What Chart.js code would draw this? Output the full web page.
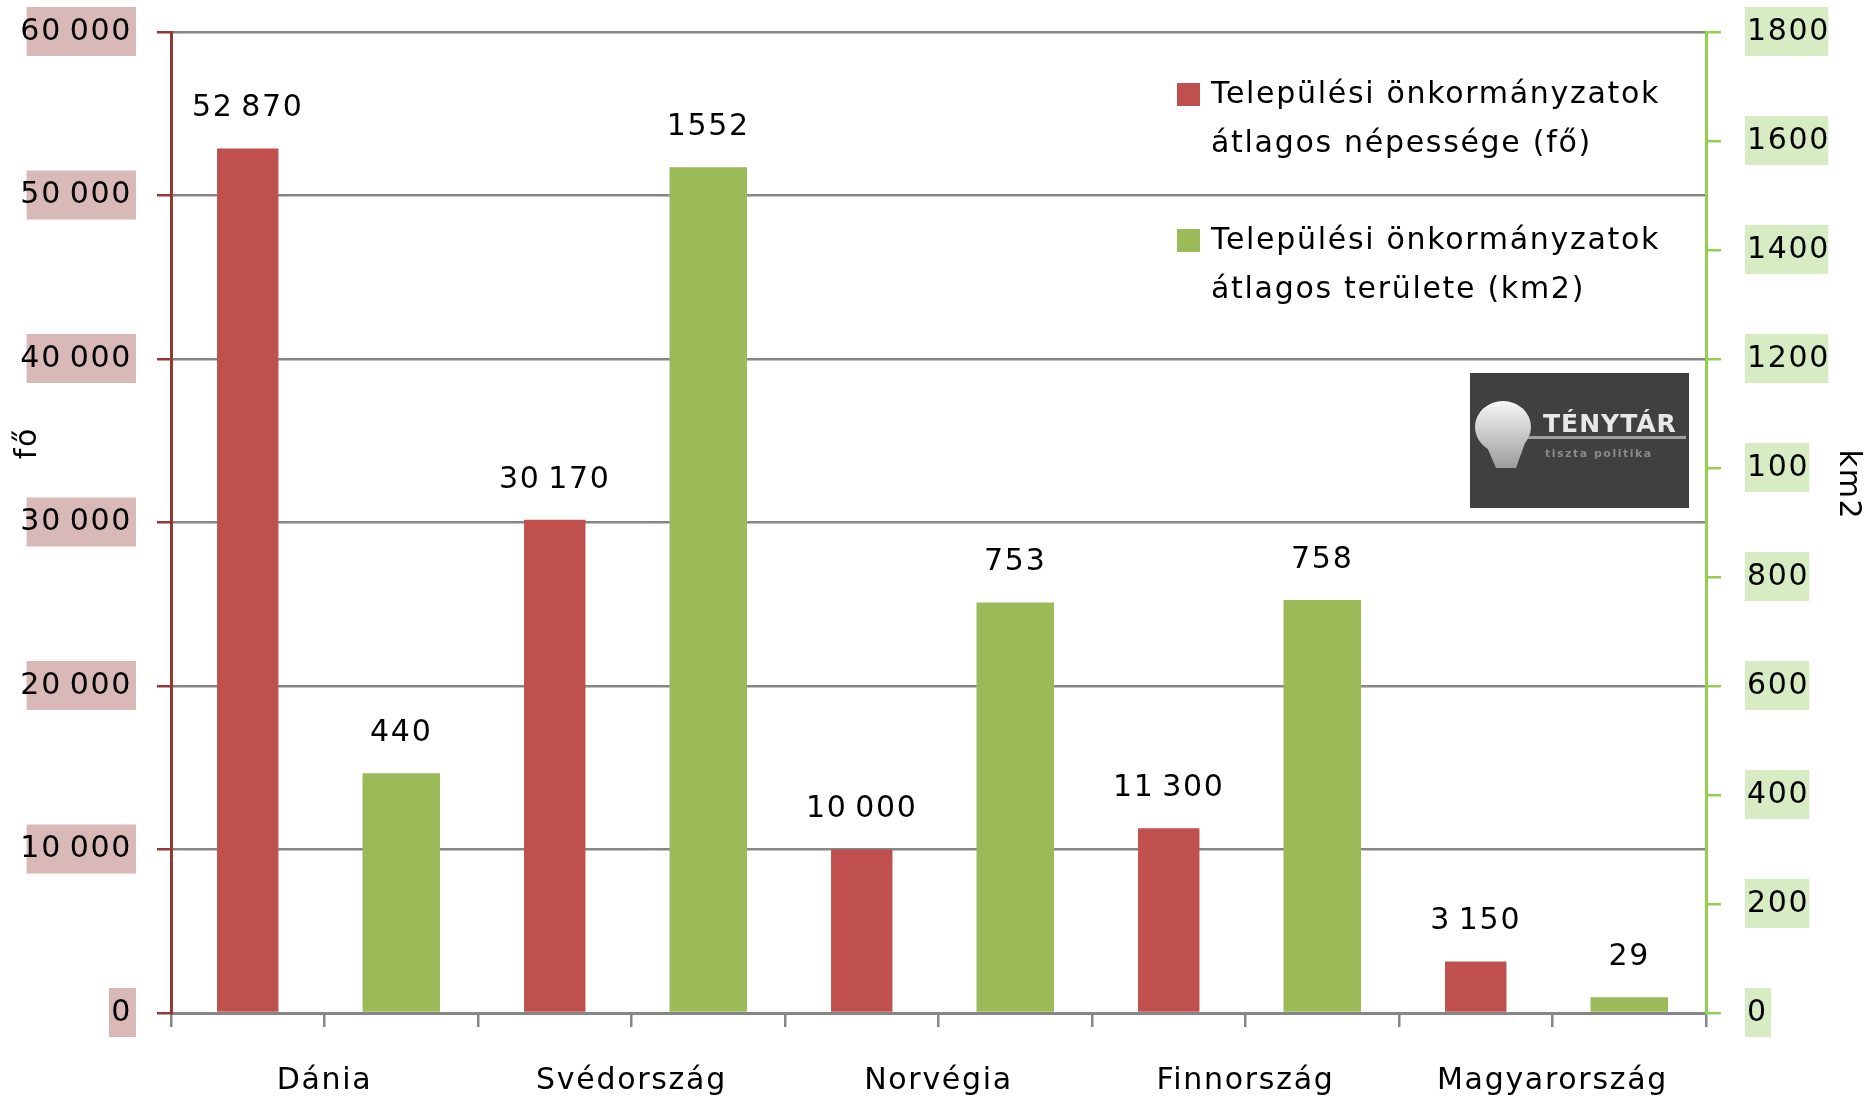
<!DOCTYPE html>
<html lang="hu">
<head>
<meta charset="utf-8">
<title>Települési önkormányzatok</title>
<script src="https://cdn.jsdelivr.net/npm/chart.js@4.4.1/dist/chart.umd.min.js"></script>
<style>
  html, body { margin: 0; padding: 0; background: #fff; }
  #wrap { width: 1869px; height: 1099px; }
</style>
</head>
<body>
<div id="wrap"><canvas id="chart" width="1869" height="1099"></canvas></div>
<script>
const countries = ['Dánia', 'Svédország', 'Norvégia', 'Finnország', 'Magyarország'];
const population = [52870, 30170, 10000, 11300, 3150];
const area = [440, 1552, 753, 758, 29];
const popLabel = ['Települési önkormányzatok', 'átlagos népessége (fő)'];
const areaLabel = ['Települési önkormányzatok', 'átlagos területe (km2)'];
const leftTicks = ['0', '10 000', '20 000', '30 000', '40 000', '50 000', '60 000'];
const rightTicks = ['0', '200', '400', '600', '800', '100', '1200', '1400', '1600', '1800'];

const RED = '#c0504d';
const GREEN = '#9bbb59';
const FONT = '"DejaVu Sans", Verdana, sans-serif';
const SPACING = '1.7px';
const THIN = '\u2009';

// every country gets two slots: népesség, then terület
const slots = countries.flatMap(c => [c, c]);
const popData = population.flatMap(v => [v, null]);
const areaData = area.flatMap(v => [null, v]);

// thousands separator is a narrow space in the original
const spaced = v => String(v).replace(/\B(?=(\d{3})+(?!\d))/g, THIN);

Chart.defaults.font.family = FONT;
Chart.defaults.font.size = 30;
Chart.defaults.color = '#000';

// the excel text is a bit wider than DejaVu, so open it up a little
const letterSpacing = {
  id: 'letterSpacing',
  beforeDraw(chart) {
    chart.ctx.letterSpacing = SPACING;
  }
};

// value labels above the bars
const barLabels = {
  id: 'barLabels',
  afterDatasetsDraw(chart) {
    const ctx = chart.ctx;
    ctx.save();
    ctx.font = '30px ' + FONT;
    ctx.fillStyle = '#000';
    ctx.textAlign = 'center';
    ctx.textBaseline = 'middle';
    chart.data.datasets.forEach((ds, di) => {
      chart.getDatasetMeta(di).data.forEach((bar, i) => {
        const v = ds.data[i];
        if (v === null) return;
        const txt = di === 0 ? spaced(v) : String(v);
        ctx.fillText(txt, bar.x, bar.y - 40);
      });
    });
    ctx.restore();
  }
};

// legend, axis titles and the logo box
const extras = {
  id: 'extras',
  afterDraw(chart) {
    const ctx = chart.ctx;
    ctx.save();

    // legend
    const entries = [
      { lines: popLabel, color: RED, top: 83 },
      { lines: areaLabel, color: GREEN, top: 229 }
    ];
    ctx.font = '30px ' + FONT;
    ctx.textAlign = 'left';
    ctx.textBaseline = 'middle';
    entries.forEach(e => {
      ctx.fillStyle = e.color;
      ctx.fillRect(1177, e.top, 23, 23);
      ctx.fillStyle = '#000';
      e.lines.forEach((l, k) => ctx.fillText(l, 1211, e.top + 12 + k * 49));
    });

    // axis titles
    ctx.textAlign = 'center';
    ctx.save();
    ctx.translate(28, 443);
    ctx.rotate(-Math.PI / 2);
    ctx.fillText('fő', 0, 0);
    ctx.restore();
    ctx.save();
    ctx.translate(1848, 485);
    ctx.rotate(Math.PI / 2);
    ctx.fillText('km2', 0, 0);
    ctx.restore();

    // logo
    ctx.fillStyle = '#404040';
    ctx.fillRect(1470, 373, 219, 135);
    const g = ctx.createLinearGradient(0, 400, 0, 470);
    g.addColorStop(0, '#f8f8f8');
    g.addColorStop(1, '#9a9a9a');
    ctx.fillStyle = g;
    ctx.beginPath();
    ctx.ellipse(1503, 427, 28, 26, 0, 0, Math.PI * 2);
    ctx.fill();
    ctx.beginPath();
    ctx.moveTo(1484, 440);
    ctx.lineTo(1526, 440);
    ctx.lineTo(1516, 468);
    ctx.lineTo(1496, 468);
    ctx.closePath();
    ctx.fill();
    ctx.fillStyle = '#a0a0a0';
    ctx.fillRect(1528, 436, 158, 3);
    ctx.fillStyle = '#e8e8e8';
    ctx.textAlign = 'left';
    ctx.textBaseline = 'alphabetic';
    ctx.letterSpacing = '1px';
    ctx.font = 'bold 25px ' + FONT;
    ctx.fillText('TÉNYTÁR', 1543, 432);
    ctx.fillStyle = '#8a8a8a';
    ctx.letterSpacing = '1.5px';
    ctx.font = 'bold 11px ' + FONT;
    ctx.fillText('tiszta politika', 1545, 457);

    ctx.restore();
  }
};

new Chart(document.getElementById('chart'), {
  type: 'bar',
  data: {
    labels: slots,
    datasets: [
      {
        label: popLabel.join(' '),
        data: popData,
        backgroundColor: RED,
        yAxisID: 'y',
        barPercentage: 0.4,
        categoryPercentage: 1
      },
      {
        label: areaLabel.join(' '),
        data: areaData,
        backgroundColor: GREEN,
        yAxisID: 'y2',
        barPercentage: 0.505,
        categoryPercentage: 1
      }
    ]
  },
  options: {
    responsive: false,
    animation: false,
    grouped: false,
    layout: { padding: { top: 32, left: 0, right: 0, bottom: 0 } },
    plugins: {
      legend: { display: false },
      tooltip: { enabled: false }
    },
    scales: {
      x: {
        offset: true,
        grid: {
          offset: true,
          drawOnChartArea: false,
          drawTicks: true,
          tickLength: 14,
          color: '#868686',
          lineWidth: 2.5
        },
        border: { color: '#868686', width: 3 },
        ticks: {
          autoSkip: false,
          maxRotation: 0,
          padding: 36,
          labelOffset: -76.75,
          callback: (v, i) => (i % 2 ? slots[i] : '')
        },
        afterFit: s => { s.height = 86; s.paddingLeft = 0; s.paddingRight = 0; }
      },
      y: {
        position: 'left',
        min: 0,
        max: 60000,
        grid: {
          color: '#868686',
          lineWidth: 2.5,
          tickColor: '#953735',
          tickLength: 14
        },
        border: { color: '#953735', width: 3 },
        ticks: {
          stepSize: 10000,
          padding: 25,
          callback: (v, i) => leftTicks[i].replace(' ', THIN),
          showLabelBackdrop: true,
          backdropColor: '#d9b8b8',
          backdropPadding: { top: 7, bottom: 6, left: 4, right: 4 }
        },
        afterFit: s => { s.width = 171; s.paddingTop = 0; s.paddingBottom = 0; }
      },
      y2: {
        position: 'right',
        min: 0,
        max: 1800,
        grid: {
          drawOnChartArea: false,
          tickColor: '#92d050',
          tickLength: 15,
          lineWidth: 2.5
        },
        border: { color: '#92d050', width: 3 },
        ticks: {
          stepSize: 200,
          padding: 26,
          callback: (v, i) => rightTicks[i],
          showLabelBackdrop: true,
          backdropColor: '#d8ecc4',
          backdropPadding: { top: 7, bottom: 6, left: 2, right: 5 }
        },
        afterFit: s => { s.width = 163; s.paddingTop = 0; s.paddingBottom = 0; }
      }
    }
  },
  plugins: [letterSpacing, barLabels, extras]
});
</script>
</body>
</html>
